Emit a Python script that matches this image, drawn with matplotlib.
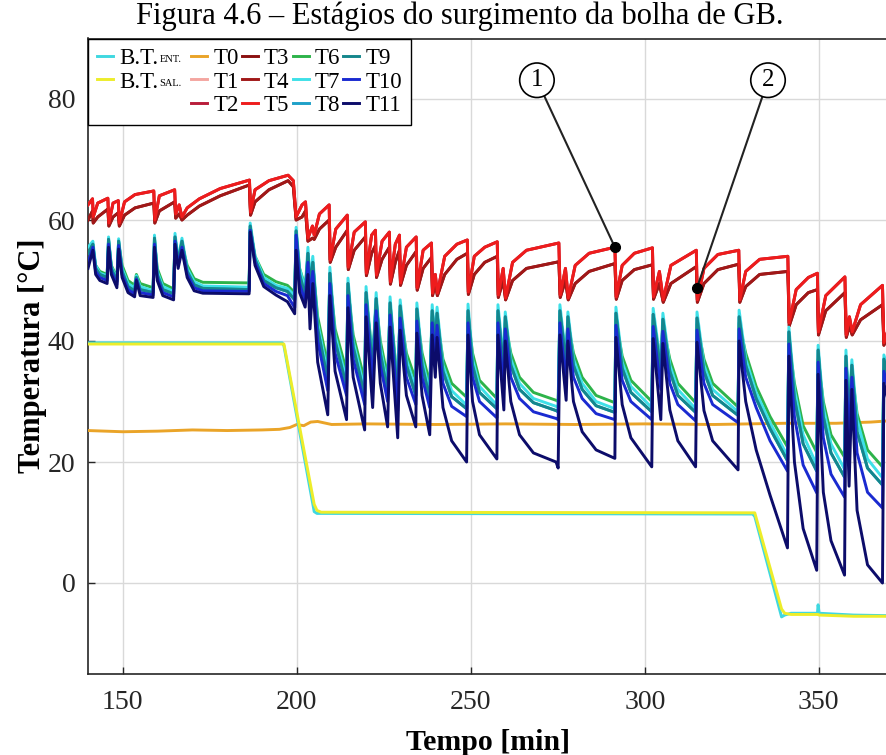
import matplotlib
matplotlib.use("Agg")
from matplotlib import pyplot as plt
from matplotlib.lines import Line2D

plt.rcParams['font.family'] = ['Liberation Serif', 'DejaVu Serif']

TITLE = "Figura 4.6 – Estágios do surgimento da bolha de GB."

# --- water bath inlet / outlet (B.T.) ---
bt_t = [140.0, 195.8, 196.3, 205.0, 205.8, 207.0, 331.0, 331.6, 339.3, 340.2,
        342.0, 349.6, 349.8, 350.1, 360.0, 370.0]
bt_ent = [39.7, 39.7, 39.2, 11.8, 11.5, 11.5, 11.4, 11.0, -5.6, -5.3,
          -5.0, -5.0, -3.6, -5.0, -5.3, -5.4]
bt_sal = [39.5, 39.5, 39.5, 13.0, 12.0, 11.7, 11.6, 11.6, -4.3, -5.0,
          -5.2, -5.2, -5.2, -5.3, -5.5, -5.5]

# --- T0 (ambient) ---
t0_t = [140, 150, 160, 170, 180, 190, 195, 198, 200, 202, 204, 206, 210, 220,
        240, 260, 280, 300, 320, 340, 355, 365, 370]
t0_v = [25.2, 25.0, 25.1, 25.3, 25.2, 25.3, 25.4, 25.7, 26.2, 26.0, 26.6, 26.7,
        26.2, 26.3, 26.2, 26.3, 26.2, 26.3, 26.2, 26.4, 26.4, 26.6, 26.8]

# --- T1..T5 (hot side), upper and lower curves ---
red_t = [140.0, 141.3, 141.5, 142.8, 145.7, 146.0, 147.2, 148.7, 149.0, 150.5,
         153.5, 158.9, 159.2, 160.5, 164.9, 165.2, 166.2, 167.0, 168.5, 172.0,
         178.0, 186.4, 186.7, 188.0, 192.0, 197.5, 199.0, 199.8, 201.5, 202.5,
         203.2, 204.5, 205.0, 206.5, 209.3, 209.6, 211.2, 214.5, 214.8, 216.5,
         219.7, 220.0, 221.5, 222.6, 222.9, 224.5, 226.6, 226.9, 228.3, 229.5,
         229.8, 231.5, 234.3, 234.6, 236.3, 238.7, 239.0, 239.8, 240.4, 242.5,
         246.0, 249.0, 249.3, 251.0, 254.0, 257.6, 257.9, 259.3, 260.0, 262.0,
         266.0, 275.3, 275.7, 277.2, 278.0, 280.0, 284.0, 291.4, 291.8, 293.5,
         297.0, 302.2, 302.5, 304.2, 305.3, 307.5, 314.8, 315.1, 317.0, 321.0,
         327.0, 327.3, 329.0, 333.0, 341.1, 341.5, 343.5, 347.0, 349.6, 349.9,
         352.0, 357.5, 357.9, 358.8, 359.6, 362.0, 368.3, 368.7, 370.0]
red_hi = [62.5, 63.5, 60.5, 62.8, 63.6, 59.5, 62.8, 63.2, 59.5, 63.0,
          64.2, 64.8, 60.0, 64.0, 65.0, 61.0, 62.5, 60.5, 62.0, 63.5,
          65.2, 66.6, 61.3, 65.0, 66.5, 67.4, 66.5, 60.5, 62.5, 63.0,
          57.0, 59.0, 57.5, 61.0, 62.5, 53.4, 58.5, 60.8, 52.2, 58.0,
          59.7, 51.2, 57.5, 58.3, 50.9, 56.5, 58.0, 49.8, 56.0, 57.5,
          49.6, 55.5, 57.2, 48.8, 55.0, 56.2, 47.9, 51.0, 47.9, 54.0,
          56.0, 56.7, 48.1, 54.0, 55.5, 56.4, 47.6, 52.0, 47.1, 53.0,
          55.0, 56.2, 47.6, 52.0, 47.1, 52.5, 54.5, 55.5, 47.3, 52.5,
          54.5, 55.4, 47.3, 51.5, 46.8, 52.5, 55.0, 46.8, 52.0, 54.3,
          55.0, 46.8, 51.5, 53.5, 54.0, 43.0, 48.5, 50.5, 51.2, 41.5,
          47.5, 50.6, 41.0, 44.0, 41.5, 46.0, 49.2, 39.7, 42.0]
red_lo = [60.0, 61.5, 59.5, 60.5, 61.8, 59.0, 60.5, 61.2, 59.0, 60.8,
          62.0, 62.8, 59.5, 61.5, 63.0, 60.3, 61.0, 60.0, 60.8, 62.3,
          64.0, 65.8, 60.8, 63.0, 65.0, 66.5, 65.5, 60.0, 60.5, 61.5,
          56.5, 57.0, 56.8, 58.5, 60.0, 53.0, 55.5, 58.3, 51.8, 55.0,
          57.2, 50.8, 54.5, 55.8, 50.5, 53.5, 55.5, 49.4, 53.0, 55.0,
          49.2, 52.5, 54.8, 48.4, 52.0, 53.8, 47.5, 49.5, 47.5, 51.0,
          53.5, 54.5, 47.7, 51.0, 53.0, 54.0, 47.2, 50.0, 46.8, 50.0,
          52.0, 53.1, 47.2, 50.0, 46.8, 49.5, 51.5, 52.8, 46.9, 50.0,
          51.8, 52.6, 46.9, 49.5, 46.4, 49.5, 52.3, 46.4, 49.5, 51.8,
          52.7, 46.4, 49.0, 51.0, 51.5, 42.5, 46.0, 48.0, 48.5, 41.0,
          45.0, 48.0, 40.6, 42.5, 41.0, 43.5, 46.0, 39.3, 41.0]

# --- T6..T11 (cold side) ---
blue_t = [140.0, 141.4, 142.2, 143.4, 145.5, 145.9, 146.7, 148.3, 148.8, 149.8,
          151.5, 153.4, 153.9, 155.0, 158.7, 159.1, 159.9, 161.5, 164.6, 165.0,
          165.9, 167.0, 168.5, 170.5, 173.0, 186.3, 186.6, 188.0, 190.5, 194.0,
          197.3, 199.4, 199.8, 200.8, 202.4, 203.2, 203.8, 204.6, 206.0, 208.9,
          209.5, 211.0, 214.3, 214.7, 216.2, 219.5, 219.9, 221.8, 222.8, 224.0,
          226.1, 226.8, 229.0, 229.7, 231.5, 234.2, 234.5, 236.0, 238.2, 238.9,
          239.8, 240.3, 242.0, 244.5, 248.8, 249.2, 250.5, 252.5, 257.5, 257.8,
          259.5, 259.9, 261.5, 264.0, 268.0, 274.5, 275.1, 275.6, 277.4, 277.9,
          279.5, 282.0, 286.0, 291.4, 291.7, 293.5, 296.0, 302.0, 302.4, 304.6,
          305.2, 307.2, 309.5, 314.6, 315.0, 317.0, 319.5, 326.8, 327.1, 329.0,
          332.0, 336.0, 341.0, 341.4, 343.0, 345.5, 349.4, 349.8, 351.3, 353.5,
          357.4, 357.8, 358.7, 359.5, 361.0, 364.0, 368.3, 368.7, 370.0]
t6_v = [54.5, 55.5, 52.5, 51.5, 51.0, 56.5, 52.5, 50.5, 56.2, 52.5,
        50.0, 49.2, 51.0, 49.5, 48.8, 56.5, 52.0, 49.5, 48.6, 56.8,
        53.5, 56.0, 52.5, 50.3, 49.7, 49.6, 58.5, 54.0, 51.0, 49.8,
        49.2, 48.0, 57.5, 52.0, 49.0, 53.5, 50.0, 52.5, 44.0, 36.0,
        50.5, 42.0, 35.0, 48.5, 41.0, 33.5, 47.0, 37.5, 46.0, 40.0,
        34.0, 45.3, 33.0, 44.8, 38.0, 33.5, 44.3, 38.0, 33.0, 44.0,
        41.0, 43.6, 37.0, 33.0, 30.7, 44.0, 38.0, 33.5, 30.5, 44.0,
        37.0, 43.0, 38.0, 34.0, 31.5, 30.2, 30.0, 44.0, 38.0, 43.0,
        38.0, 34.0, 31.0, 29.8, 43.6, 37.5, 33.5, 30.0, 43.4, 37.0,
        42.6, 37.0, 33.0, 29.8, 42.8, 37.0, 33.0, 29.1, 43.0, 38.0,
        32.5, 27.5, 22.5, 40.0, 33.0, 26.0, 21.6, 37.0, 30.0, 24.5,
        20.8, 36.5, 30.0, 35.0, 28.0, 22.0, 19.2, 35.5, 33.0]
t7_v = [55.5, 56.5, 52.5, 51.2, 50.8, 57.2, 52.3, 50.2, 56.9, 52.0,
        49.5, 48.8, 50.8, 49.0, 48.3, 57.5, 51.5, 49.0, 48.2, 57.8,
        53.5, 57.0, 52.0, 49.8, 49.1, 48.9, 59.5, 54.0, 50.5, 49.2,
        48.7, 47.5, 58.8, 52.0, 48.5, 55.5, 50.0, 54.0, 43.0, 34.5,
        52.2, 41.0, 33.5, 50.4, 40.0, 32.0, 49.0, 36.0, 48.0, 39.0,
        32.5, 47.3, 31.5, 46.8, 37.0, 32.0, 46.3, 37.0, 31.5, 46.0,
        40.5, 45.6, 36.0, 31.8, 29.4, 46.1, 37.0, 32.5, 29.4, 46.0,
        36.5, 44.8, 37.0, 33.0, 30.5, 29.2, 29.0, 46.0, 37.0, 44.8,
        37.0, 33.0, 30.0, 28.8, 45.6, 36.5, 32.5, 29.0, 45.4, 36.0,
        44.6, 36.0, 32.0, 28.8, 44.8, 36.0, 32.0, 28.3, 45.1, 37.0,
        31.5, 26.5, 21.0, 42.3, 32.0, 24.5, 19.5, 39.3, 29.0, 23.0,
        18.8, 38.5, 29.0, 36.9, 27.0, 20.5, 17.4, 37.7, 35.0]
t9_v = [54.5, 56.0, 52.0, 51.0, 50.5, 56.8, 52.0, 49.8, 56.5, 51.5,
        49.0, 48.3, 50.5, 48.5, 48.0, 57.0, 51.0, 48.5, 47.8, 57.2,
        53.0, 56.5, 51.5, 49.3, 48.7, 48.5, 59.0, 53.5, 50.0, 48.8,
        48.2, 46.8, 58.2, 51.0, 47.5, 54.5, 49.0, 53.0, 42.0, 33.5,
        51.2, 40.0, 32.5, 49.5, 39.0, 31.0, 48.0, 35.0, 47.0, 38.0,
        31.5, 46.3, 30.5, 45.8, 36.0, 31.0, 45.3, 36.0, 30.5, 45.0,
        39.5, 44.6, 35.0, 30.8, 28.8, 45.0, 36.0, 31.5, 28.8, 45.0,
        35.0, 44.0, 36.0, 32.0, 29.8, 28.5, 28.3, 45.0, 36.0, 44.0,
        36.0, 32.0, 29.3, 28.2, 44.6, 35.5, 31.5, 28.3, 44.4, 35.0,
        43.6, 35.0, 31.0, 28.2, 43.8, 35.0, 31.0, 27.7, 44.0, 36.0,
        30.5, 25.5, 20.2, 41.5, 30.5, 23.0, 18.5, 38.5, 27.5, 21.5,
        17.5, 37.5, 27.0, 36.0, 25.0, 19.0, 16.2, 37.0, 34.0]
t10_v = [53.0, 55.5, 51.5, 50.5, 50.0, 56.0, 51.5, 49.3, 55.8, 51.0,
         48.5, 47.8, 50.2, 48.0, 47.6, 56.0, 50.5, 48.0, 47.3, 56.5,
         52.5, 55.5, 51.0, 48.8, 48.3, 48.2, 58.3, 53.0, 49.5, 48.2,
         47.5, 45.5, 57.5, 49.5, 46.5, 53.0, 47.0, 51.5, 40.0, 31.8,
         49.5, 38.0, 31.0, 47.5, 37.0, 29.5, 46.0, 33.0, 45.0, 36.0,
         30.0, 44.3, 28.5, 43.8, 34.0, 29.5, 43.3, 34.0, 29.0, 43.0,
         37.0, 42.6, 33.0, 29.2, 27.5, 43.0, 34.0, 30.0, 27.3, 43.0,
         32.0, 42.0, 34.0, 30.5, 28.3, 27.2, 27.0, 43.0, 33.0, 42.0,
         34.0, 30.5, 28.0, 27.0, 42.6, 33.5, 30.0, 27.0, 42.4, 32.0,
         41.6, 33.0, 29.5, 26.8, 41.8, 33.0, 29.5, 26.5, 42.0, 34.0,
         29.0, 23.5, 18.5, 39.5, 27.5, 19.5, 14.9, 36.5, 24.0, 18.0,
         14.2, 35.5, 24.0, 34.0, 21.5, 15.0, 12.4, 35.0, 32.0]
t11_v = [52.0, 55.0, 51.0, 50.0, 49.5, 55.5, 51.0, 48.8, 55.2, 50.5,
         48.0, 47.3, 50.0, 47.5, 47.2, 55.5, 50.0, 47.5, 46.8, 56.0,
         52.0, 55.0, 50.5, 48.3, 47.9, 47.8, 58.0, 52.5, 49.0, 47.6,
         46.5, 44.5, 55.0, 48.0, 45.6, 51.0, 42.0, 49.5, 36.5, 27.8,
         47.5, 35.0, 27.0, 45.5, 34.0, 25.3, 44.0, 29.0, 43.0, 33.0,
         25.8, 42.3, 24.0, 41.8, 31.0, 25.8, 41.3, 31.0, 24.5, 41.0,
         34.0, 40.6, 29.0, 23.5, 20.0, 41.0, 30.0, 24.5, 20.5, 41.0,
         28.6, 40.0, 30.0, 24.5, 21.5, 20.0, 19.0, 41.0, 30.2, 40.0,
         30.0, 25.0, 22.0, 20.6, 40.6, 29.5, 24.0, 19.2, 40.4, 27.0,
         39.6, 28.6, 23.5, 19.2, 39.8, 28.5, 23.5, 18.7, 40.0, 30.0,
         22.0, 14.5, 5.8, 37.5, 20.0, 9.0, 2.1, 34.5, 15.0, 7.0,
         1.3, 33.5, 16.0, 32.0, 12.0, 3.0, 0.0, 33.0, 30.0]

# which read-off curve each sensor follows (hidden sensors sit under visible ones)
series = [
    ("T0", t0_t, t0_v, "#eaa428"),
    ("T1", red_t, red_hi, "#f4a6a0"),
    ("T2", red_t, red_hi, "#b81d3a"),
    ("T3", red_t, red_lo, "#8b1010"),
    ("T4", red_t, red_lo, "#a01818"),
    ("T5", red_t, red_hi, "#ee1c1c"),
    ("T6", blue_t, t6_v, "#2db34a"),
    ("T7", blue_t, t7_v, "#3ee0e8"),
    ("T8", blue_t, t9_v, "#1ea0c8"),
    ("T9", blue_t, t9_v, "#14868c"),
    ("T10", blue_t, t10_v, "#1a2ad0"),
    ("T11", blue_t, t11_v, "#0c0c6a"),
]

# annotation markers: label, circle centre, point
marks = [("1", (269.0, 83.1), (291.4, 55.5)),
         ("2", (335.4, 83.1), (315.0, 48.8))]

fig = plt.figure(figsize=(8.86, 7.55), dpi=100)
ax = fig.add_axes([88 / 886, 81.25 / 755, 800.4 / 886, 635.25 / 755])

lines = {}
for name, xs, ys, col in series:
    lines[name], = ax.plot(xs, ys, color=col, lw=2.1, zorder=3)
h_ent, = ax.plot(bt_t, bt_ent, color="#3fd8e0", lw=2.1, zorder=4)
h_sal, = ax.plot(bt_t, bt_sal, color="#eded2a", lw=2.1, zorder=4)

for lbl, (cx, cy), (dx, dy) in marks:
    ax.annotate(lbl, xy=(dx, dy), xytext=(cx, cy), ha="center", va="center",
                fontsize=18, zorder=6,
                bbox=dict(boxstyle="circle,pad=0.25", fc="white", ec="black", lw=1.2),
                arrowprops=dict(arrowstyle="-", color="#222222", lw=1.5,
                                shrinkA=0, shrinkB=0))
    ax.plot(dx, dy, "o", color="black", ms=7, zorder=7)

ax.set_xlim(140, 370)
ax.set_ylim(-15, 90)
ax.set_xticks([150, 200, 250, 300, 350])
ax.set_yticks([0, 20, 40, 60, 80])
ax.grid(True, color="#d9d9d9", lw=1.0)
ax.set_axisbelow(True)
ax.tick_params(direction="in", length=5, width=1, labelsize=20, colors="#262626")
ax.tick_params(axis="x", pad=12)
ax.tick_params(axis="y", pad=9)
for sp in ax.spines.values():
    sp.set_color("#262626")
    sp.set_linewidth(1.2)

ax.set_xlabel("Tempo [min]", fontsize=21.5, fontweight="bold", labelpad=10)
ax.set_ylabel("Temperatura [°C]", fontsize=22, fontweight="bold")
ax.yaxis.set_label_coords(-0.051, 0.5)

fig.text(0.519, 0.979, TITLE, ha="center", va="center", fontsize=22)

# legend: B.T. column gets a blank third row (spaces set the column width)
blank = Line2D([], [], color="none")
handles = [h_ent, h_sal, blank] + [lines[s[0]] for s in series]
labels = ["B.T.", "B.T.", " " * 12] + [s[0] for s in series]
leg = ax.legend(handles, labels, ncol=5, loc="upper left", bbox_to_anchor=(0, 1),
                borderaxespad=0, fontsize=16.5, handlelength=0.7, handletextpad=0.25,
                columnspacing=0.15, labelspacing=0.12, borderpad=0.4,
                fancybox=False, edgecolor="black", framealpha=1)
leg.get_frame().set_linewidth(1.0)
leg.set_zorder(8)

# small subscripts right after the two B.T. labels
for txt, sub in zip(leg.get_texts()[:2], ["ENT.", "SAL."]):
    ax.annotate(sub, xy=(1, 0), xycoords=txt, xytext=(1, 3.5),
                textcoords="offset points", fontsize=7.5, ha="left", va="bottom",
                annotation_clip=False, zorder=9)

fig.savefig("out.png", dpi=100)
